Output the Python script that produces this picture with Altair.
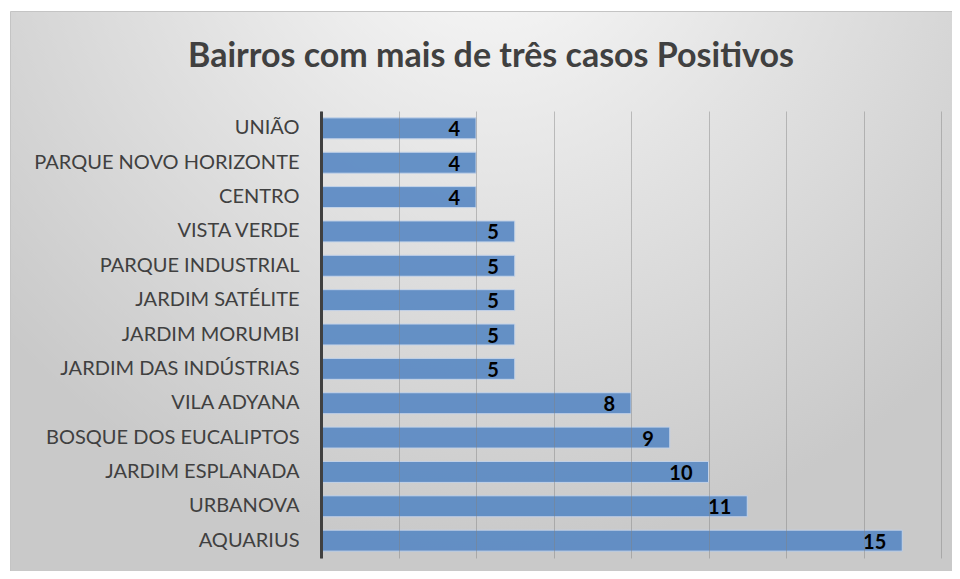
import altair as alt
import pandas as pd

bairros = ["UNIÃO", "PARQUE NOVO HORIZONTE", "CENTRO", "VISTA VERDE", "PARQUE INDUSTRIAL",
           "JARDIM SATÉLITE", "JARDIM MORUMBI", "JARDIM DAS INDÚSTRIAS", "VILA ADYANA",
           "BOSQUE DOS EUCALIPTOS", "JARDIM ESPLANADA", "URBANOVA", "AQUARIUS"]
casos = [4, 4, 4, 5, 5, 5, 5, 5, 8, 9, 10, 11, 15]

df = pd.DataFrame({"bairro": bairros, "casos": casos})

W, H = 620, 447
PL, PT, PR, PB = 313, 103, 11, 13
FONT = "Lato"

bg = alt.Chart(alt.Data(values=[{}])).mark_rect(
    fill=alt.Gradient(
        gradient="radial",
        x1=0.5, y1=0.08, r1=0,
        x2=0.5, y2=0.08, r2=0.68,
        stops=[alt.GradientStop(color="#fbfbfb", offset=0),
               alt.GradientStop(color="#e4e4e4", offset=0.45),
               alt.GradientStop(color="#c9c9c9", offset=1)],
    ),
    stroke="#c4c4c4", strokeWidth=1,
).encode(
    x=alt.value(-PL + 2.5), x2=alt.value(W + PR + 20),
    y=alt.value(-PT + 3.5), y2=alt.value(H + PB + 20),
)

y_enc = alt.Y("bairro:N", sort=bairros, title=None,
              scale=alt.Scale(paddingInner=0.39, paddingOuter=0.2),
              axis=alt.Axis(labelFont=FONT, labelFontSize=20, labelColor="#404040",
                            labelPadding=22, ticks=False, domainColor="#404040",
                            domainWidth=3, zindex=2, labelLimit=400))

x_enc = alt.X("casos:Q", title=None,
              scale=alt.Scale(domain=[0, 16], nice=False),
              axis=alt.Axis(values=[0, 2, 4, 6, 8, 10, 12, 14, 16], labels=False,
                            ticks=False, domain=False, grid=True, gridColor="#808080",
                            gridOpacity=0.45, gridWidth=1, zindex=1))

bars = alt.Chart(df).mark_bar(
    color="#5b8ac4", opacity=0.92, stroke="#c3d3ea", strokeWidth=1
).encode(y=y_enc, x=x_enc)

labels = alt.Chart(df).mark_text(
    align="right", baseline="middle", dx=-16, dy=2, font=FONT, fontSize=20,
    fontWeight="bold", color="#000000"
).encode(y=alt.Y("bairro:N", sort=bairros), x=alt.X("casos:Q"), text="casos:Q")

chart = alt.layer(bg, bars, labels).properties(
    width=W, height=H,
    padding={"left": PL, "top": PT, "right": PR, "bottom": PB},
    autosize=alt.AutoSizeParams(type="none"),
    background="#ffffff",
    title=alt.TitleParams("Bairros com mais de três casos Positivos", font=FONT,
                          fontSize=34, fontWeight="bold", color="#404040",
                          anchor="middle", dx=-140, offset=-63),
).configure_view(stroke=None)

chart.save("out.html", embed_options={"renderer": "svg", "actions": False})
